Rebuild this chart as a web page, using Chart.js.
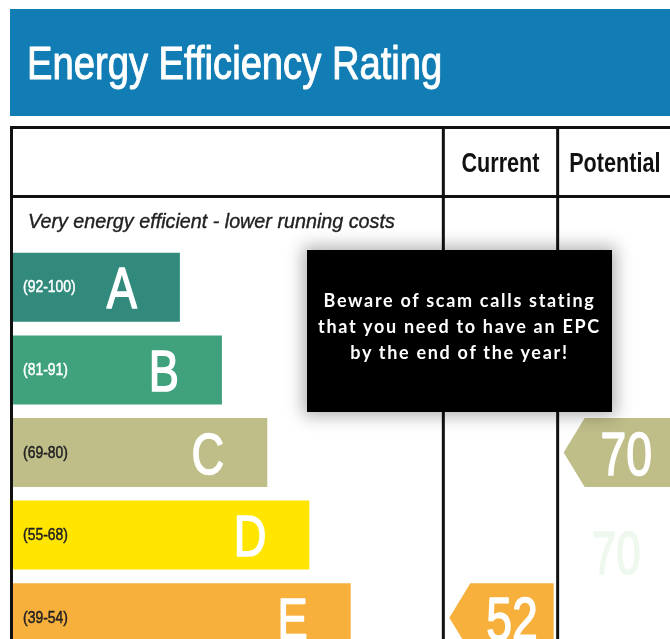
<!DOCTYPE html>
<html>
<head>
<meta charset="utf-8">
<title>Energy Efficiency Rating</title>
<script src="https://cdn.jsdelivr.net/npm/chart.js@4.4.1/dist/chart.umd.min.js"></script>
<style>
  html, body { margin: 0; padding: 0; background: #fff; overflow: hidden; }
  #page { position: relative; width: 670px; height: 639px; overflow: hidden; }
  #chartBox { position: absolute; left: 0; top: 0; width: 670px; height: 700px; }
  #scam {
    position: absolute; left: 307px; top: 250px; width: 305px; height: 162px;
    box-sizing: border-box; padding-top: 37px;
    background: #000; color: #fff; text-align: center;
    font: bold 18px Lato, "DejaVu Sans", sans-serif; letter-spacing: 1.7px; line-height: 26px;
    box-shadow: 0 0 16px 4px rgba(0, 0, 0, 0.3);
  }
</style>
</head>
<body>
<div id="page">
  <div id="chartBox"><canvas id="epc"></canvas></div>
  <div id="scam">Beware of scam calls stating<br>that you need to have an EPC<br>by the end of the year!</div>
</div>
<script>
// rating bands, top to bottom
const bands = ['A', 'B', 'C', 'D', 'E'];
const bandRanges = ['(92-100)', '(81-91)', '(69-80)', '(55-68)', '(39-54)'];
const bandFloor = [92, 81, 69, 55, 39];
const bandLength = [25.4, 31.8, 38.7, 45.1, 51.4]; // % of table width
const bandColors = ['#318a7b', '#3fa27d', '#bfbd88', '#ffe500', '#f8b03c'];
const rangeInk = ['#fff', '#fff', '#222', '#222', '#222'];

// current / potential columns
const columns = ['Current', 'Potential'];
const columnStart = [65.5, 82.9]; // x-scale units
const ratings = [52, 70];

const FONT = '"Liberation Sans", Arial, sans-serif';

// condensed text (the original uses a narrow face), optional stroke to thicken it
function narrow(ctx, text, x, y, font, sx, align, color, weight) {
  ctx.save();
  ctx.translate(x, y);
  ctx.scale(sx, 1);
  ctx.font = font;
  ctx.textAlign = align;
  ctx.textBaseline = 'alphabetic';
  ctx.fillStyle = color;
  ctx.fillText(text, 0, 0);
  if (weight) {
    ctx.strokeStyle = color;
    ctx.lineWidth = weight;
    ctx.lineJoin = 'round';
    ctx.strokeText(text, 0, 0);
  }
  ctx.restore();
}

const epcFrame = {
  id: 'epcFrame',
  beforeDatasetsDraw(chart) {
    const { ctx, chartArea } = chart;
    const xs = chart.scales.x;
    const W = chart.width;

    // blue banner
    ctx.fillStyle = '#117db4';
    ctx.fillRect(10, 9, W - 10, 107);
    narrow(ctx, 'Energy Efficiency Rating', 27, 79, '46px ' + FONT, 0.83, 'left', '#fff', 1);

    // table lines
    const left = chartArea.left - 1.5;
    const colX = columnStart.map(v => xs.getPixelForValue(v));
    ctx.strokeStyle = '#111';
    ctx.lineWidth = 3;
    ctx.beginPath();
    ctx.moveTo(left - 1.5, 127.5); ctx.lineTo(W, 127.5);
    ctx.moveTo(left, 196.5); ctx.lineTo(W, 196.5);
    ctx.moveTo(left, 126); ctx.lineTo(left, chart.height);
    colX.forEach(cx => { ctx.moveTo(cx, 126); ctx.lineTo(cx, chart.height); });
    ctx.stroke();

    const colW = colX[1] - colX[0];
    columns.forEach((c, k) => {
      narrow(ctx, c, colX[k] + colW / 2, 172, 'bold 27px ' + FONT, 0.8, 'center', '#111');
    });
    narrow(ctx, 'Very energy efficient - lower running costs', 28, 228, 'italic 21px ' + FONT, 0.94, 'left', '#222', 0.4);
  },
  afterDatasetsDraw(chart) {
    const { ctx } = chart;
    const meta = chart.getDatasetMeta(0);
    const xs = chart.scales.x;

    meta.data.forEach((bar, i) => {
      narrow(ctx, bandRanges[i], bar.base + 10, bar.y + 5, '17px ' + FONT, 0.82, 'left', rangeInk[i], 0.5);
      narrow(ctx, bands[i], bar.x - 43, bar.y + 21, '58px ' + FONT, 0.78, 'right', '#fff', 1.6);
    });

    // rating arrows
    const colX = columnStart.map(v => xs.getPixelForValue(v));
    const colW = colX[1] - colX[0];
    ratings.forEach((r, k) => {
      const i = bandFloor.findIndex(f => r >= f);
      const bar = meta.data[i];
      const h = bar.height / 2;
      const l = colX[k] + 6;
      const rr = k === columns.length - 1 ? chart.width + 2 : colX[k] + colW - 4;
      const y = bar.y;
      ctx.fillStyle = bandColors[i];
      ctx.beginPath();
      ctx.moveTo(l, y);
      ctx.lineTo(l + 21, y - h);
      ctx.lineTo(rr, y - h);
      ctx.lineTo(rr, y + h);
      ctx.lineTo(l + 21, y + h);
      ctx.closePath();
      ctx.fill();
      const cx = l + 21 + (colW - 31) / 2;
      narrow(ctx, String(r), cx, y + 22, '61px ' + FONT, 0.76, 'center', '#fff', 1.6);

      // faint ghost of the potential figure from the video frame
      if (k === 1 && meta.data[i + 1]) {
        narrow(ctx, String(r), cx - 10, meta.data[i + 1].y + 39, '61px ' + FONT, 0.72, 'center', '#eef8ee', 1.6);
      }
    });
  }
};

new Chart(document.getElementById('epc'), {
  type: 'bar',
  data: {
    labels: bands,
    datasets: [{
      data: bandLength,
      backgroundColor: bandColors,
      borderWidth: 0,
      barPercentage: 1,
      categoryPercentage: 0.835
    }]
  },
  options: {
    indexAxis: 'y',
    responsive: true,
    maintainAspectRatio: false,
    animation: false,
    events: [],
    layout: { padding: { left: 13, right: 0, top: 246, bottom: 41 } },
    plugins: { legend: { display: false }, tooltip: { enabled: false } },
    scales: {
      x: { display: false, min: 0, max: 100 },
      y: { display: false }
    }
  },
  plugins: [epcFrame]
});
</script>
</body>
</html>
